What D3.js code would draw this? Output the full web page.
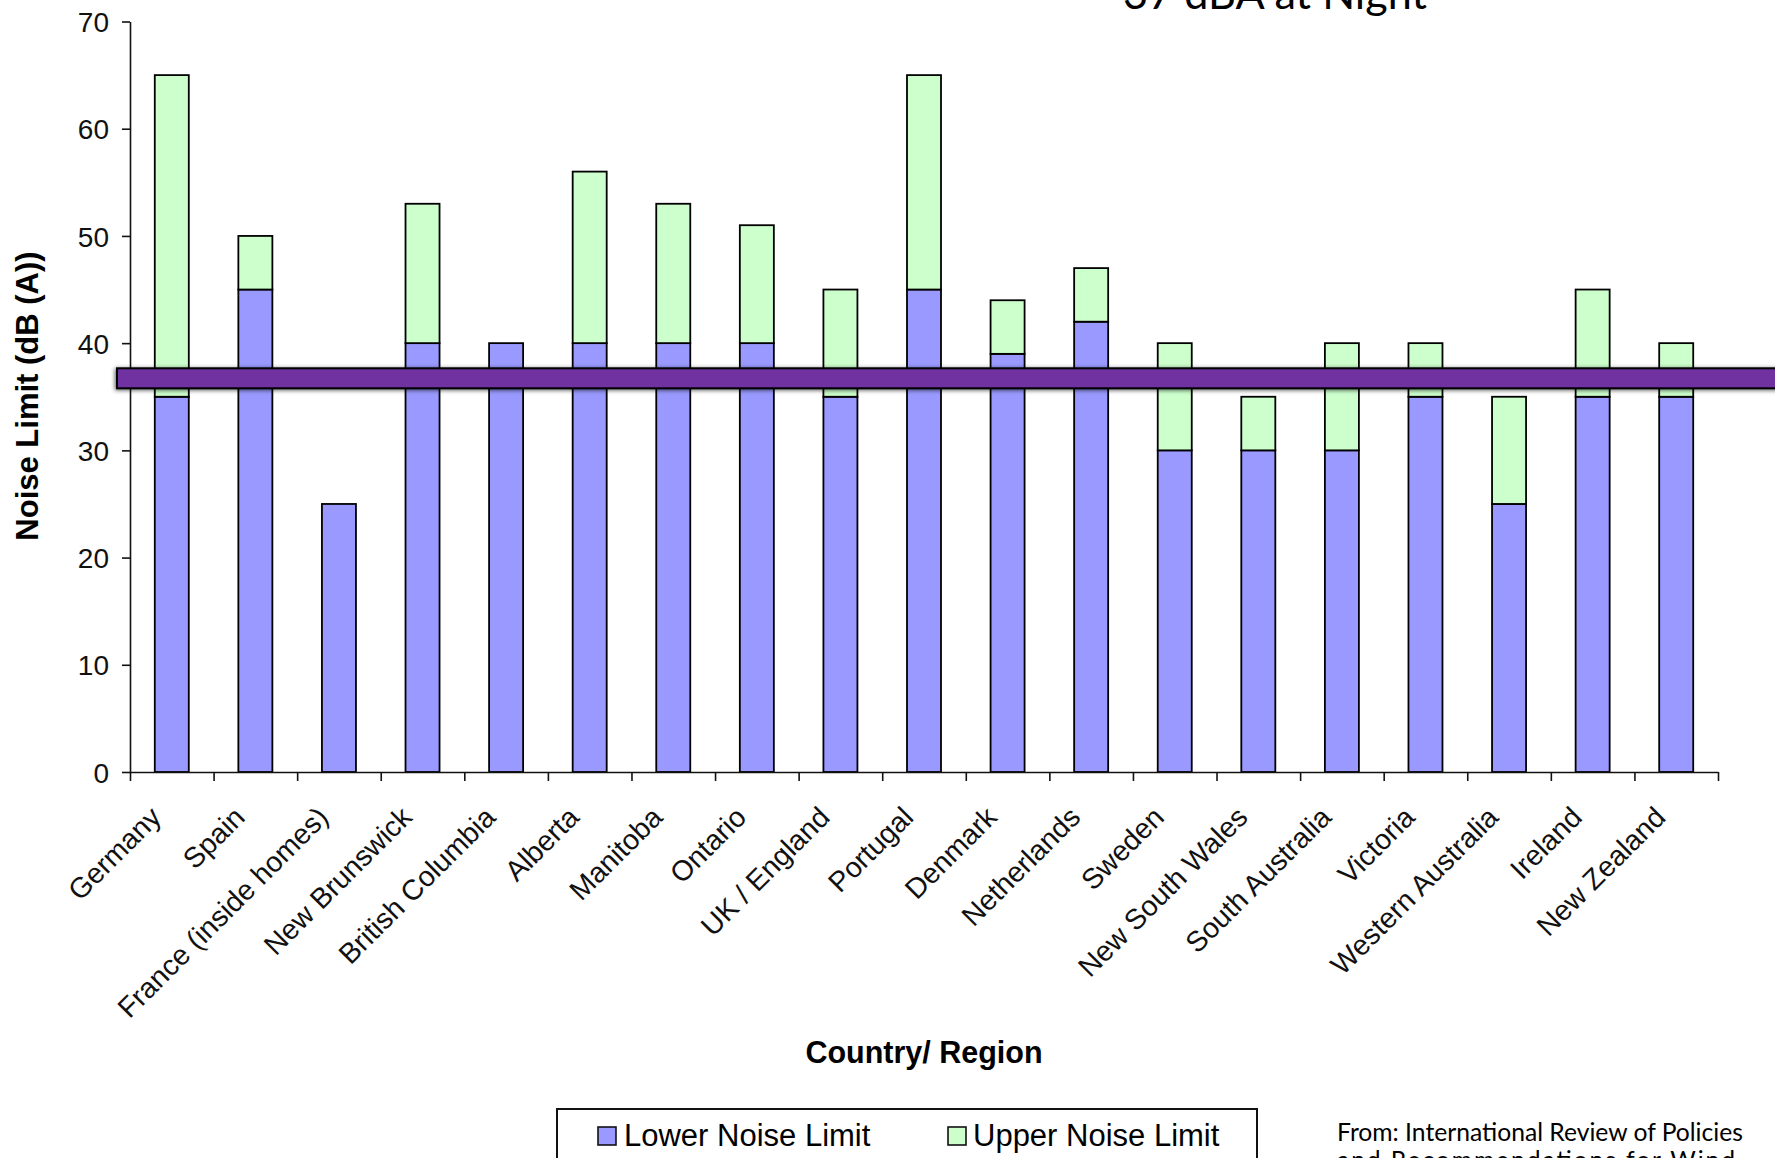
<!DOCTYPE html>
<html>
<head>
<meta charset="utf-8">
<script src="https://cdn.jsdelivr.net/npm/d3@7"></script>
<style>
  html, body { margin: 0; padding: 0; background: #fff; }
  svg { display: block; }
</style>
</head>
<body>
<svg id="chart" width="1775" height="1158"></svg>
<script>
// Wind turbine noise limits by country / region (dB(A))
const categories = [
  "Germany", "Spain", "France (inside homes)", "New Brunswick", "British Columbia",
  "Alberta", "Manitoba", "Ontario", "UK / England", "Portugal", "Denmark",
  "Netherlands", "Sweden", "New South Wales", "South Australia", "Victoria",
  "Western Australia", "Ireland", "New Zealand"
];
const lowerLimit = [35, 45, 25, 40, 40, 40, 40, 40, 35, 45, 39, 42, 30, 30, 30, 35, 25, 35, 35];
const upperLimit = [65, 50, 25, 53, 40, 56, 53, 51, 45, 65, 44, 47, 40, 35, 40, 40, 35, 45, 40];
const yTicks = [0, 10, 20, 30, 40, 50, 60, 70];
const seriesNames = ["Lower Noise Limit", "Upper Noise Limit"];
const nightLimit = 37;
const nightLabel = "37 dBA at Night";
const sourceLines = [
  "From: International Review of Policies",
  "and Recommendations for Wind"
];

const svg = d3.select("#chart");
const W = 1775, H = 1158;
const plot = { left: 130, right: 1718, top: 21.5, bottom: 772 };

const colors = { lower: "#9999ff", upper: "#ccffcc", night: "#7030a0" };

// Stack table: lower limit plus the extra span up to the upper limit
const table = categories.map((c, i) => ({
  country: c,
  lower: lowerLimit[i],
  extra: upperLimit[i] - lowerLimit[i]
}));
const stacked = d3.stack().keys(["lower", "extra"])(table);

const x = d3.scaleBand()
  .domain(categories)
  .range([plot.left, plot.right])
  .paddingInner(0.593)
  .paddingOuter(0.2965);

const y = d3.scaleLinear()
  .domain([0, 70])
  .range([plot.bottom, plot.top]);

// Category boundaries, used for the x tick marks
const xb = d3.scaleLinear().domain([0, categories.length]).range([plot.left, plot.right]);

const defs = svg.append("defs");
const shadow = defs.append("filter").attr("id", "bandShadow")
  .attr("x", "-5%").attr("y", "-100%").attr("width", "110%").attr("height", "300%");
shadow.append("feDropShadow")
  .attr("dx", -1).attr("dy", 1).attr("stdDeviation", 2.2)
  .attr("flood-color", "#000").attr("flood-opacity", 0.65);

// Bars
const segColors = [colors.lower, colors.upper];
svg.append("g").selectAll("g")
  .data(stacked)
  .join("g")
  .attr("fill", (d, i) => segColors[i])
  .selectAll("rect")
  .data(d => d.filter(s => s[1] - s[0] > 0))
  .join("rect")
  .attr("x", d => x(d.data.country))
  .attr("width", x.bandwidth())
  .attr("y", d => y(d[1]))
  .attr("height", d => y(d[0]) - y(d[1]))
  .attr("stroke", "#000")
  .attr("stroke-width", 1.8);

// Y axis
const yAxis = svg.append("g")
  .attr("transform", `translate(${plot.left},0)`)
  .call(d3.axisLeft(y).tickValues(yTicks).tickSize(8).tickSizeOuter(0).tickPadding(13));
yAxis.select(".domain").attr("stroke", "#111").attr("stroke-width", 1.6);
yAxis.selectAll(".tick line").attr("stroke", "#111").attr("stroke-width", 1.6);
yAxis.selectAll(".tick text")
  .attr("font-family", "'Liberation Sans', Arial, sans-serif")
  .attr("font-size", 28)
  .attr("fill", "#111")
  .attr("dy", "0.36em");

// X axis line with ticks between categories
const xAxis = svg.append("g")
  .attr("transform", `translate(0,${plot.bottom})`)
  .call(d3.axisBottom(xb).tickValues(d3.range(categories.length + 1)).tickFormat("").tickSize(9).tickSizeOuter(0));
xAxis.select(".domain").attr("stroke", "#111").attr("stroke-width", 1.6);
xAxis.selectAll(".tick line").attr("stroke", "#111").attr("stroke-width", 1.6);

// Category labels, rotated
const xLab = svg.append("g")
  .attr("transform", `translate(0,${plot.bottom})`)
  .call(d3.axisBottom(x).tickSize(0).tickPadding(0));
xLab.select(".domain").remove();
xLab.selectAll(".tick text")
  .attr("font-family", "'Liberation Sans', Arial, sans-serif")
  .attr("font-size", 28.5)
  .attr("fill", "#111")
  .attr("text-anchor", "end")
  .attr("y", 0).attr("dy", 0)
  .attr("transform", "translate(-9,47) rotate(-45)");

// Night-time limit band
svg.append("rect")
  .attr("x", 117)
  .attr("width", W - 117 + 20)
  .attr("y", y(nightLimit) - 7)
  .attr("height", 20)
  .attr("fill", colors.night)
  .attr("stroke", "#000")
  .attr("stroke-width", 2)
  .attr("filter", "url(#bandShadow)");

// Fit helper: scales a text's font size so it spans a given width
function fitWidth(sel, target) {
  const node = sel.node();
  const fs = parseFloat(sel.attr("font-size"));
  const len = node.getComputedTextLength();
  if (len > 0) sel.attr("font-size", (fs * target / len).toFixed(2));
}

// Night label at top
const nl = svg.append("text")
  .attr("x", 1123).attr("y", 9)
  .attr("font-family", "Lato, 'Open Sans', sans-serif")
  .attr("font-size", 40)
  .attr("fill", "#000")
  .text(nightLabel);
fitWidth(nl, 304);

// Axis titles
svg.append("text")
  .attr("transform", `translate(38,396) rotate(-90)`)
  .attr("text-anchor", "middle")
  .attr("font-family", "'Liberation Sans', Arial, sans-serif")
  .attr("font-weight", "bold")
  .attr("font-size", 31)
  .attr("fill", "#000")
  .text("Noise Limit (dB (A))");

svg.append("text")
  .attr("x", 924).attr("y", 1063)
  .attr("text-anchor", "middle")
  .attr("font-family", "'Liberation Sans', Arial, sans-serif")
  .attr("font-weight", "bold")
  .attr("font-size", 30.5)
  .attr("fill", "#000")
  .text("Country/ Region");

// Legend
const legend = svg.append("g");
legend.append("rect")
  .attr("x", 557).attr("y", 1109)
  .attr("width", 700).attr("height", 90)
  .attr("fill", "#fff").attr("stroke", "#111").attr("stroke-width", 2);
const legendItems = [
  { name: seriesNames[0], color: colors.lower, sx: 598, tx: 624 },
  { name: seriesNames[1], color: colors.upper, sx: 948, tx: 973 }
];
legendItems.forEach(it => {
  legend.append("rect")
    .attr("x", it.sx).attr("y", 1127).attr("width", 18).attr("height", 18)
    .attr("fill", it.color).attr("stroke", "#111").attr("stroke-width", 1.6);
  legend.append("text")
    .attr("x", it.tx).attr("y", 1146)
    .attr("font-family", "'Liberation Sans', Arial, sans-serif")
    .attr("font-size", 31)
    .attr("fill", "#000")
    .text(it.name);
});

// Source note
const s1 = svg.append("text")
  .attr("x", 1337).attr("y", 1141)
  .attr("font-family", "Lato, 'Open Sans', sans-serif")
  .attr("font-size", 23)
  .attr("fill", "#000")
  .text(sourceLines[0]);
fitWidth(s1, 406);
svg.append("text")
  .attr("x", 1337).attr("y", 1169)
  .attr("font-family", "Lato, 'Open Sans', sans-serif")
  .attr("font-size", s1.attr("font-size"))
  .attr("fill", "#000")
  .attr("textLength", 398)
  .attr("lengthAdjust", "spacing")
  .text(sourceLines[1]);
</script>
</body>
</html>
